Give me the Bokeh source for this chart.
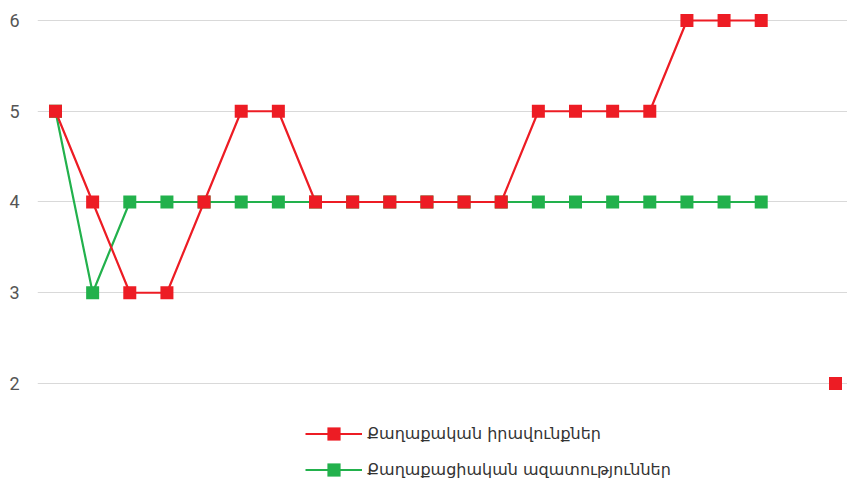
from bokeh.plotting import figure
from bokeh.models import ColumnDataSource, Range1d, FixedTicker, Legend, LegendItem
from bokeh.embed import file_html
from bokeh.resources import INLINE
import numpy as np

# ---- data ----
idx = list(range(22))
rights = [5, 4, 3, 3, 4, 5, 5, 4, 4, 4, 4, 4, 4, 5, 5, 5, 5, 6, 6, 6, None, 2]
freedoms = [5, 3, 4, 4, 4, 4, 4, 4, 4, 4, 4, 4, 4, 4, 4, 4, 4, 4, 4, 4, None, None]
names = ["Քաղաքական իրավունքներ", "Քաղաքացիական ազատություններ"]
y_ticks = [2, 3, 4, 5, 6]

RED = "#ED1C24"
GREEN = "#22B14C"

def arr(v):
    return np.array([np.nan if x is None else x for x in v], dtype=float)

p = figure(width=841, height=481, output_backend="svg", toolbar_location=None,
           x_range=Range1d(-0.4846, 21.323), y_range=Range1d(0.920, 6.2204),
           min_border_left=0, min_border_right=0, min_border_top=0, min_border_bottom=0)
p.styles = {"margin-left": "6px"}
p.outline_line_color = None
p.xaxis.visible = False
p.xgrid.visible = False
p.ygrid.ticker = FixedTicker(ticks=y_ticks)
p.ygrid.grid_line_color = "#d9d9d9"
p.ygrid.grid_line_width = 1
p.yaxis.ticker = FixedTicker(ticks=y_ticks)
p.yaxis.axis_line_color = None
p.yaxis.major_tick_line_color = None
p.yaxis.minor_tick_line_color = None
p.yaxis.major_label_standoff = 12
p.yaxis.major_label_text_font = "Roboto"
p.yaxis.major_label_text_font_size = "18px"
p.yaxis.major_label_text_color = "#555555"

src_g = ColumnDataSource(dict(x=idx, y=arr(freedoms)))
src_r = ColumnDataSource(dict(x=idx, y=arr(rights)))

gl = p.line("x", "y", source=src_g, line_color=GREEN, line_width=2.2)
gm = p.scatter("x", "y", source=src_g, marker="square", size=13, fill_color=GREEN, line_color=None)
rl = p.line("x", "y", source=src_r, line_color=RED, line_width=2.2)
rm = p.scatter("x", "y", source=src_r, marker="square", size=13, fill_color=RED, line_color=None)

legend = Legend(items=[LegendItem(label=names[0], renderers=[rl, rm]),
                       LegendItem(label=names[1], renderers=[gl, gm])],
                location=(268, -5), orientation="vertical")
legend.border_line_color = None
legend.background_fill_alpha = 0
legend.padding = 0
legend.margin = 0
legend.spacing = 3
legend.glyph_width = 57
legend.glyph_height = 33
legend.label_height = 33
legend.label_standoff = 5
legend.label_text_font = "DejaVu Sans"
legend.label_text_font_size = "16px"
legend.label_text_color = "#333333"
p.add_layout(legend)

open("out.html", "w").write(file_html(p, INLINE))
